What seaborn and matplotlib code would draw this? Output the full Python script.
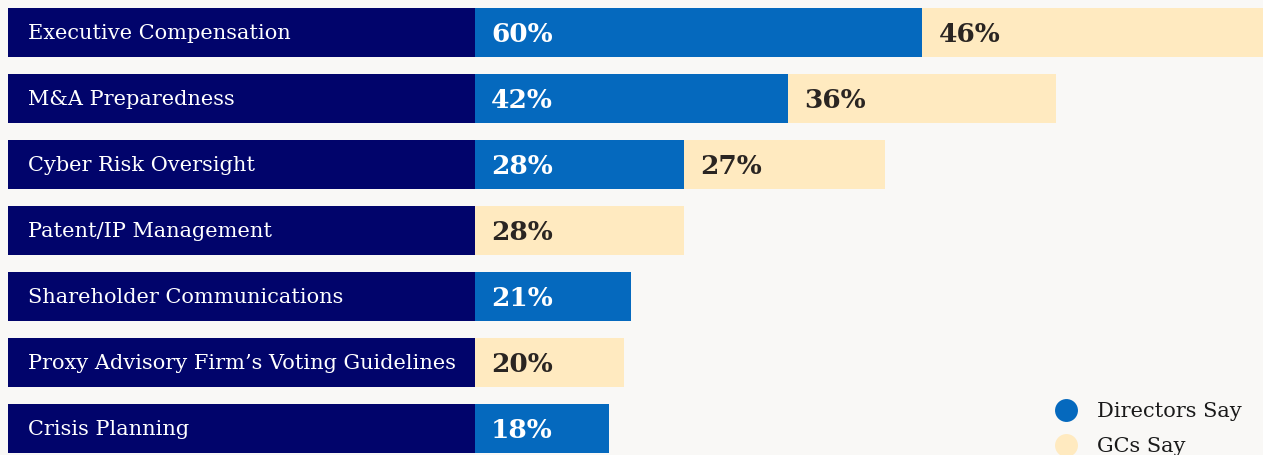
import matplotlib
matplotlib.use("Agg")
import matplotlib.pyplot as plt
from matplotlib.lines import Line2D
import seaborn as sns
import pandas as pd

# Board priorities: share of respondents naming each area
categories = [
    "Executive Compensation",
    "M&A Preparedness",
    "Cyber Risk Oversight",
    "Patent/IP Management",
    "Shareholder Communications",
    "Proxy Advisory Firm\u2019s Voting Guidelines",
    "Crisis Planning",
]
directors_say = [60, 42, 28, 0, 21, 0, 18]
gcs_say = [46, 36, 27, 28, 0, 20, 0]
series_names = ["Directors Say", "GCs Say"]

BG = "#f9f8f6"
NAVY = "#01046b"
BLUE = "#0569be"
CREAM = "#ffeac0"
DARK = "#2a2522"
SERIF = "DejaVu Serif"

sns.set_theme(style="white")
plt.rcParams["font.family"] = [SERIF]

df = pd.DataFrame({"category": categories,
                   "directors": directors_say,
                   "gcs": gcs_say})
df["total"] = df["directors"] + df["gcs"]
df["box"] = 1

W, H = 1263, 455
fig = plt.figure(figsize=(W / 100, H / 100), dpi=100, facecolor=BG)

pitch = 66.0
ax_h = 7 * pitch
ax_bottom = (H - (ax_h - 0.5)) / H
left_x0, left_x1 = 7.5, 475.0
px_per_pct = 7.45

# label column (navy boxes)
axl = fig.add_axes([left_x0 / W, ax_bottom, (left_x1 - left_x0) / W, ax_h / H])
# bar area
axr = fig.add_axes([left_x1 / W, ax_bottom, (W - left_x1) / W, ax_h / H])

bar_w = 49 / pitch

sns.barplot(data=df, x="box", y="category", color=NAVY, saturation=1,
            width=bar_w, errorbar=None, linewidth=0, ax=axl)
sns.barplot(data=df, x="total", y="category", color=CREAM, saturation=1,
            width=bar_w, errorbar=None, linewidth=0, ax=axr)
sns.barplot(data=df, x="directors", y="category", color=BLUE, saturation=1,
            width=bar_w, errorbar=None, linewidth=0, ax=axr)

axl.set_xlim(0, 1)
axr.set_xlim(0, (W - left_x1) / px_per_pct)
for ax in (axl, axr):
    ax.set_ylim(6.5, -0.5)
    ax.set_axis_off()
    ax.set_facecolor("none")

for i, cat in enumerate(categories):
    axl.annotate(cat, xy=(0, i), xytext=(14.5, -0.5), textcoords="offset points",
                 ha="left", va="center", color="white", fontsize=15,
                 family=SERIF)
    d, g = directors_say[i], gcs_say[i]
    if d > 0:
        axr.annotate(f"{d}%", xy=(0, i), xytext=(11.5, -1.2),
                     textcoords="offset points", ha="left", va="center",
                     color="white", fontsize=19, fontweight="bold",
                     family=SERIF)
    if g > 0:
        axr.annotate(f"{g}%", xy=(d, i), xytext=(12, -1.2),
                     textcoords="offset points", ha="left", va="center",
                     color=DARK, fontsize=19, fontweight="bold",
                     family=SERIF)

handles = [
    Line2D([], [], linestyle="none", marker="o", markersize=16.5,
           markerfacecolor=BLUE, markeredgewidth=0),
    Line2D([], [], linestyle="none", marker="o", markersize=16.5,
           markerfacecolor=CREAM, markeredgewidth=0),
]
fig.legend(handles, series_names, loc="upper left",
           bbox_to_anchor=(1051 / W, 1 - 402 / H), bbox_transform=fig.transFigure,
           frameon=False, fontsize=15, borderpad=0, borderaxespad=0,
           handlelength=1.4, handletextpad=0.8, labelspacing=0.78,
           labelcolor="#1a1a1a")

fig.savefig("out.png", dpi=100, facecolor=BG)
